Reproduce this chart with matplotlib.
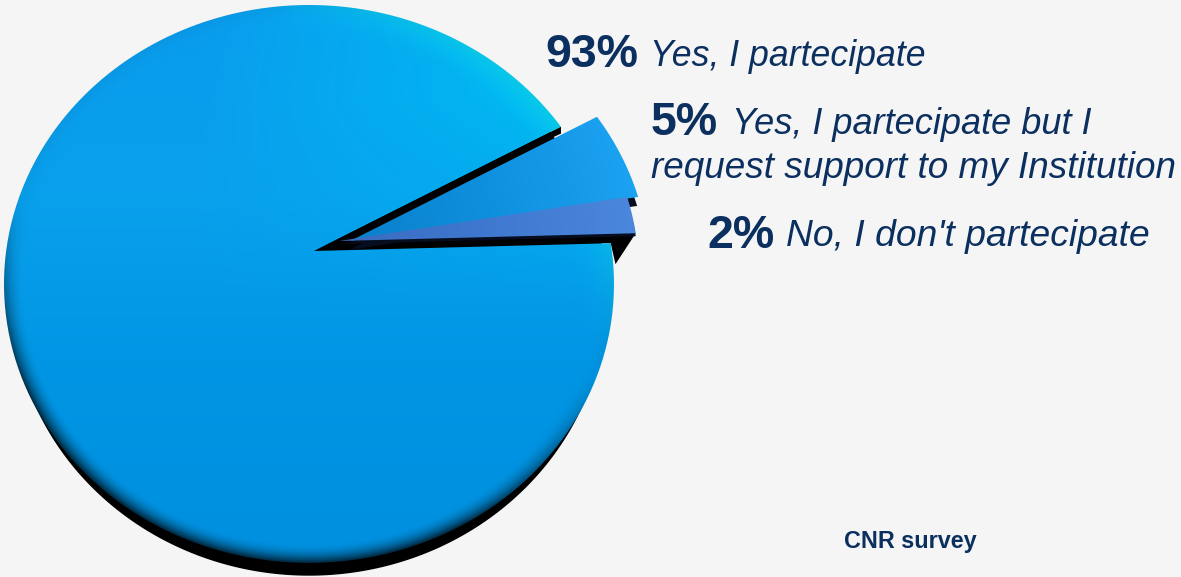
import numpy as np
import matplotlib
matplotlib.use("Agg")
import matplotlib.pyplot as plt
from matplotlib.colors import LinearSegmentedColormap
from matplotlib.patches import Polygon

plt.rcParams['font.family'] = ['Liberation Sans', 'DejaVu Sans']

# survey shares, clockwise from the big slice
shares = [93, 5, 2]
answers = ["Yes, I partecipate",
           "Yes, I partecipate but I\nrequest support to my Institution",
           "No, I don't partecipate"]
source = "CNR survey"

NAVY = "#0b2f5f"
BG = "#f5f5f5"

# tilted disc, in pixel units
CX, CY, RX, RY = 309.0, 284.0, 305.0, 279.0
APEX = np.array([314.0, 251.0])
OFFSETS = [(0, 0), (36, -10), (25, -10)]


def rim_point(theta, off):
    # where a ray from the apex hits the (shifted) disc outline
    d = np.array([np.cos(theta), -np.sin(theta)])
    p = APEX - np.array([CX, CY])
    a = (d[0] / RX) ** 2 + (d[1] / RY) ** 2
    b = 2 * (p[0] * d[0] / RX ** 2 + p[1] * d[1] / RY ** 2)
    c = (p[0] / RX) ** 2 + (p[1] / RY) ** 2 - 1
    t = (-b + np.sqrt(b * b - 4 * a * c)) / (2 * a)
    return APEX + np.array(off) + t * d


def slice_outline(start, end, off):
    # polygon of one slice, angles in degrees going clockwise
    angles = np.radians(np.linspace(start, end, 200))
    rim = np.array([rim_point(t, off) for t in angles])
    return np.vstack([APEX + np.array(off), rim])


def shaded(ax, outline, img, zorder=3):
    poly = Polygon(outline, closed=True, transform=ax.transData, fc="none", ec="none")
    ax.add_patch(poly)
    im = ax.imshow(img, extent=(0, 1181, 577, 0), interpolation="bilinear",
                   aspect="auto", zorder=zorder)
    im.set_clip_path(poly)
    return im


fig = plt.figure(figsize=(11.81, 5.77), dpi=100, facecolor=BG)
ax = fig.add_axes([0, 0, 1, 1])
ax.set_facecolor(BG)
ax.set_xlim(0, 1181)
ax.set_ylim(577, 0)
ax.axis("off")

xx, yy = np.meshgrid(np.arange(1181) + 0.5, np.arange(577) + 0.5)
rad = np.sqrt(((xx - CX) / RX) ** 2 + ((yy - CY) / RY) ** 2)

# slice angles from the shares
start_angle = 1.5
spans = np.array(shares) / sum(shares) * 360
ends = start_angle - np.cumsum(spans)
starts = ends + spans

# black underside of the disc
theta = np.linspace(0, 2 * np.pi, 400)
ax.fill(CX + (RX - 8) * np.cos(theta), CY + 12 + RY * np.sin(theta), color="black", zorder=1)

# big slice: blue fading downwards
main_cmap = LinearSegmentedColormap.from_list("main", ["#0a9cee", "#09a0ec", "#0095e4", "#008fdf"])
main = main_cmap(yy / 577)

# lighter towards the upper right, with a cyan glow along the rim there
sweep = np.clip((xx - 200) / 360, 0, 1) * np.clip((300 - yy) / 200, 0, 1)
tint = np.array([0.0, 0.73, 0.95])
for i in range(3):
    main[..., i] = main[..., i] * (1 - sweep) + tint[i] * sweep
glow = np.clip((rad - 0.86) / 0.14, 0, 1) ** 2 * np.clip(((xx - CX) - (yy - CY)) / 420 - 0.55, 0, 1) * 1.6
glow = np.clip(glow, 0, 1)
bright = np.array([0.05, 0.87, 0.94])
for i in range(3):
    main[..., i] = main[..., i] * (1 - glow) + bright[i] * glow

# dark rim, strong along the bottom and faint on the upper left
low = np.clip((yy - CY + 0.3 * (CX - xx)) / 200, 0.06, 1)
edge = np.clip((rad - 0.93) / 0.07, 0, 1) ** 2 * low * 0.75
main[..., :3] *= (1 - edge)[..., None]
shaded(ax, slice_outline(starts[0], ends[0], OFFSETS[0]), main, zorder=3)

# black side walls visible in the cut
wall_low = np.array([APEX, rim_point(np.radians(1.5), OFFSETS[2]), rim_point(np.radians(-1.0), (3, 8)),
                     rim_point(np.radians(1.5), (0, 0))])
wall_up = np.array([APEX, rim_point(np.radians(ends[0] + 360), (0, 0)),
                    rim_point(np.radians(ends[0] + 359.3), (-2, 4))])
ax.add_patch(Polygon(wall_low, closed=True, fc="black", ec="none", zorder=2))
ax.add_patch(Polygon(wall_up, closed=True, fc="black", ec="none", zorder=4))

# black drop under the exploded slices
drops = {1: (-1.0, 9.0), 2: (0.0, 3.0)}
for k in (1, 2):
    o = slice_outline(starts[k], ends[k], OFFSETS[k])
    ax.add_patch(Polygon(o + np.array(drops[k]), closed=True, fc="#050d1f", ec="none", zorder=4 + k))

# exploded slices, darker near the apex and lighter at the rim
colors = {1: ["#0a7fca", "#0f90de", "#1ba2f0"], 2: ["#3a6cc0", "#3f78cf", "#4a86dc"]}
for k in (1, 2):
    off = np.array(OFFSETS[k])
    dist = np.hypot(xx - APEX[0] - off[0], yy - APEX[1] - off[1]) / 290
    cmap = LinearSegmentedColormap.from_list(f"s{k}", colors[k])
    shaded(ax, slice_outline(starts[k], ends[k], OFFSETS[k]), cmap(np.clip(dist, 0, 1)), zorder=6 + k)

# labels: share in bold, answer in italic on nearly the same baseline
big = 33.5
line_sizes = [[25.7], [26.0, 26.6], [26.8]]
share_pos = [(545, 67), (651, 135), (707, 248)]
answer_pos = [[(650, 66)], [(732, 134), (651, 178)], [(786, 246)]]
for share, sp, answer, positions, sizes in zip(shares, share_pos, answers, answer_pos, line_sizes):
    ax.text(sp[0], sp[1], f"{share}%", fontsize=big, fontweight="bold", color=NAVY,
            va="baseline", ha="left", zorder=10)
    for line, (xa, ya), size in zip(answer.split("\n"), positions, sizes):
        ax.text(xa, ya, line, fontsize=size, style="italic", color=NAVY,
                va="baseline", ha="left", zorder=10)

ax.text(844, 548, source, fontsize=16.8, fontweight="bold", color=NAVY, va="baseline", ha="left", zorder=10)

fig.savefig("out.png", dpi=100, facecolor=BG)
